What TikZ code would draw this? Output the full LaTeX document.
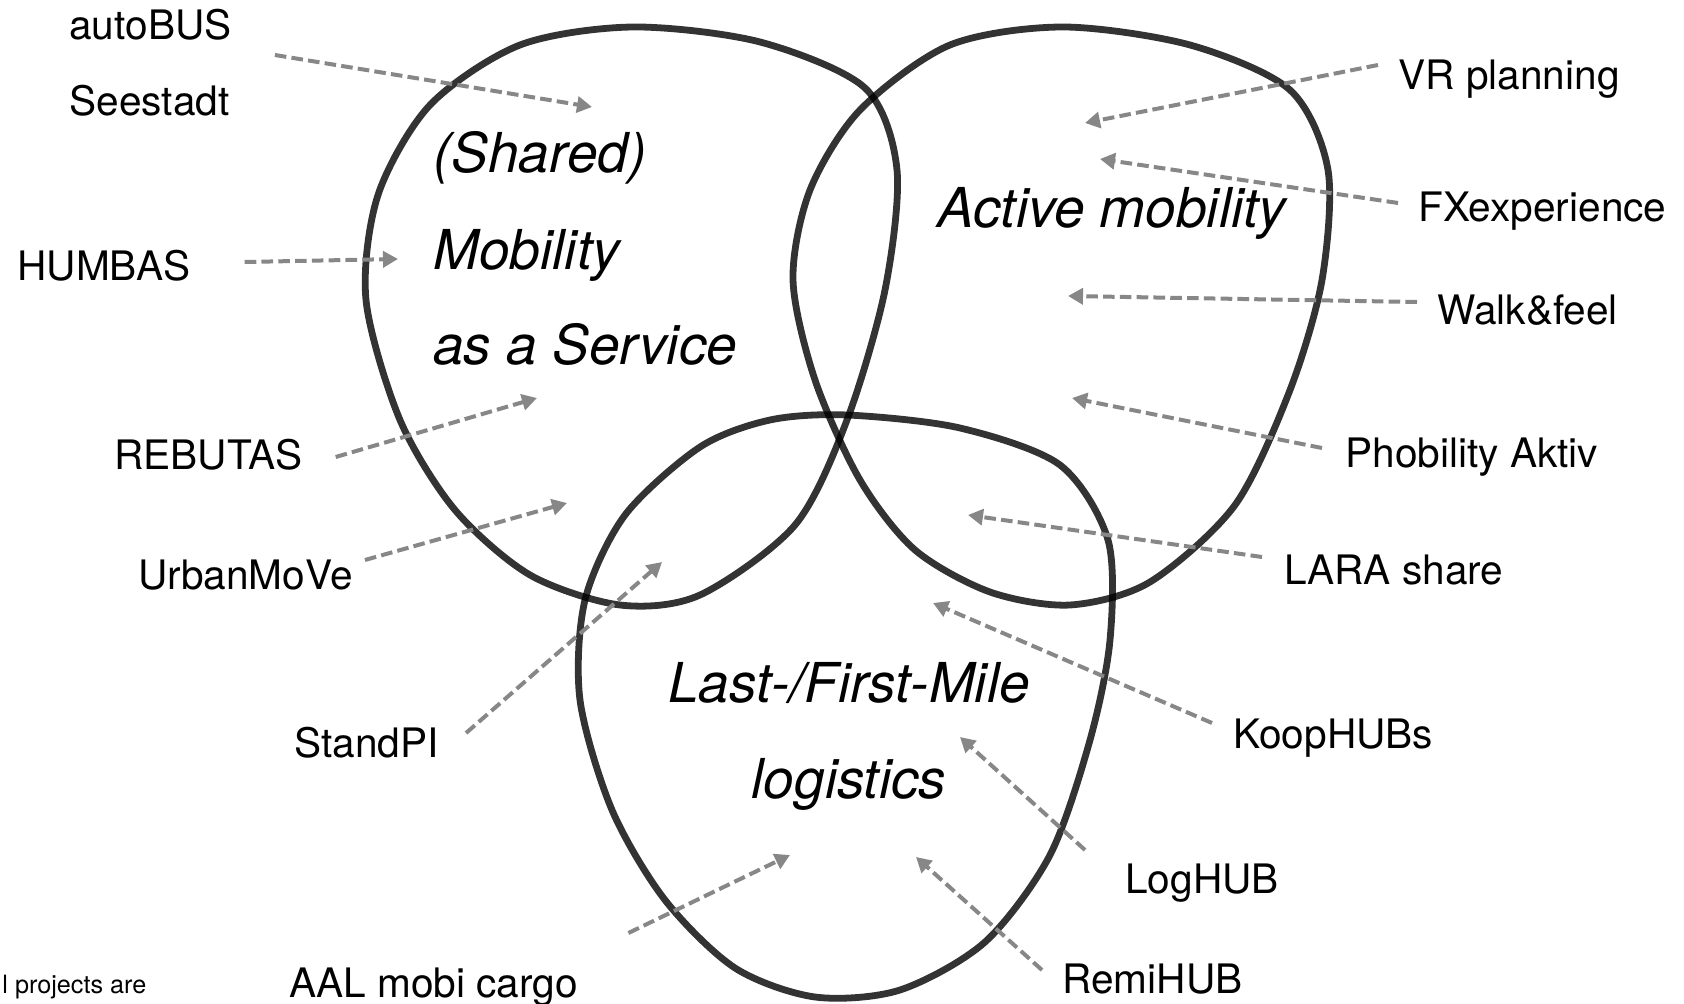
\documentclass[tikz,border=0pt]{standalone}
\usepackage{fontspec}
\setmainfont{TeX Gyre Heros}
\usetikzlibrary{arrows.meta,calc}

\begin{document}
\begin{tikzpicture}[x=0.5pt,y=-0.5pt,
    blob/.style={draw=black, draw opacity=0.8, line width=3.4pt},
    proj/.style={draw=black!47, line width=2pt, dash pattern=on 5.8pt off 2.6pt,
        -{Triangle[length=7.5pt,width=8pt]}},
    lbl/.style={inner sep=0pt, font=\fontsize{20.3}{24}\selectfont},
    area/.style={inner sep=0pt, font=\fontsize{27.5}{33}\selectfont\itshape}]
    \useasboundingbox (0,0) rectangle (1684,1004);
    % the three fields
    \draw[blob] plot[smooth cycle] coordinates {(633,27) (760,42) (865,88) (897,170)
        (885,290) (847,420) (795,525) (700,595) (620,605) (530,575) (455,510)
        (400,420) (366,300) (378,195) (430,105) (520,45)};
    \draw[blob] plot[smooth cycle] coordinates {(1063,27) (1190,45) (1290,90) (1328,170)
        (1322,280) (1290,390) (1235,505) (1150,582) (1070,605) (990,592) (915,550)
        (860,480) (815,380) (793,280) (810,190) (860,110) (950,45)};
    \draw[blob] plot[smooth cycle] coordinates {(847,415) (960,428) (1060,465) (1108,540)
        (1110,640) (1090,740) (1050,855) (985,942) (900,990) (815,997) (735,968)
        (665,900) (612,810) (580,700) (585,600) (625,515) (700,447) (770,420)};
    % field titles
    \node[area, anchor=base west] (shared) at (433,173) {(Shared)};
    \node[area, anchor=base west] (mobility) at (433,270) {Mobility};
    \node[area, anchor=base west] (service) at (433,365) {as a Service};
    \node[area, anchor=base west] (active) at (937,228) {Active mobility};
    \node[area, anchor=base] (lastmile) at (849,702) {Last-/First-Mile};
    \node[area, anchor=base] (logistics) at (849,798) {logistics};
    % projects on the left
    \node[lbl, anchor=base west] (autobus) at (69,40) {autoBUS};
    \node[lbl, anchor=base west] (seestadt) at (69,116) {Seestadt};
    \node[lbl, anchor=base west] (humbas) at (17,281) {HUMBAS};
    \node[lbl, anchor=base west] (rebutas) at (114,470) {REBUTAS};
    \node[lbl, anchor=base west] (urbanmove) at (138,589) {UrbanMoVe};
    \node[lbl, anchor=base west] (standpi) at (294,757) {StandPI};
    \node[lbl, anchor=base west] (aal) at (289,997) {AAL mobi cargo};
    \node[inner sep=0pt, anchor=base west, font=\fontsize{12.6}{15}\selectfont] (note) at (2,993) {l projects are};
    % projects on the right
    \node[lbl, anchor=base west] (vrplan) at (1398,90) {VR planning};
    \node[lbl, anchor=base west] (fxexp) at (1418,222) {FXexperience};
    \node[lbl, anchor=base west] (walkfeel) at (1437,325) {Walk\&feel};
    \node[lbl, anchor=base west] (phobility) at (1345,468) {Phobility Aktiv};
    \node[lbl, anchor=base west] (lara) at (1284,584) {LARA share};
    \node[lbl, anchor=base west] (koophubs) at (1233,748) {KoopHUBs};
    \node[lbl, anchor=base west] (loghub) at (1125,893) {LogHUB};
    \node[lbl, anchor=base west] (remihub) at (1062,993) {RemiHUB};
    % where the arrows point
    \foreach \n/\x/\y in {autobus/592/107, humbas/398/259, rebutas/537/398,
        urbanmove/567/503, standpi/662/562, aal/790/855, vrplan/1085/123,
        fxexp/1100/159, walkfeel/1068/296, phobility/1072/398, lara/968/515,
        koophubs/933/603, loghub/960/737, remihub/916/857}
        \coordinate (tip-\n) at (\x,\y);
    % arrows
    \foreach \n/\a/\dx/\dy in {autobus/base east/43/15, humbas/base east/54/-19,
        rebutas/base east/33/-13, urbanmove/base east/12/-29, standpi/base east/27/-24,
        aal/base east/50/-64, vrplan/base west/-20/-25, fxexp/base west/-20/-19,
        walkfeel/base west/-20/-23, phobility/base west/-23/-20, lara/base west/-22/-27,
        koophubs/base west/-21/-25, loghub/base west/-40/-43, remihub/base west/-20/-23}
        \draw[proj] ($(\n.\a)+(\dx,\dy)$) -- (tip-\n);
\end{tikzpicture}
\end{document}
